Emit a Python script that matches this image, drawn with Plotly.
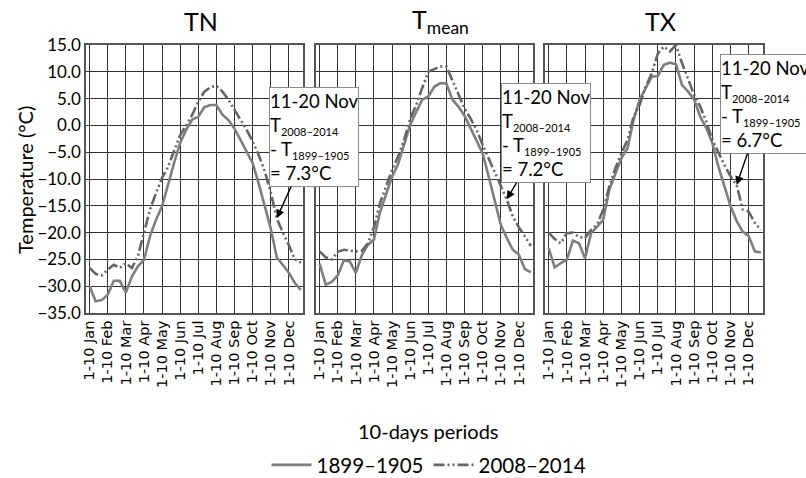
import plotly.graph_objects as go

# ---------------- data ----------------
periods = list(range(36))  # 10-day periods, 1-10 Jan ... 21-31 Dec
tick_idx = [0, 3, 6, 9, 12, 15, 18, 21, 24, 27, 30, 33]
tick_labels = ["1-10 Jan", "1-10 Feb", "1-10 Mar", "1-10 Apr", "1-10 May", "1-10 Jun",
               "1-10 Jul", "1-10 Aug", "1-10 Sep", "1-10 Oct", "1-10 Nov", "1-10 Dec"]
y_ticks = [-35, -30, -25, -20, -15, -10, -5, 0, 5, 10, 15]

tn_1899 = [-30.0, -32.8, -32.6, -31.6, -29.0, -29.0, -31.2, -28.2, -26.3, -25.1, -20.7, -17.6,
           -15.1, -10.8, -7.0, -3.3, -0.8, 1.1, 1.6, 3.4, 3.8, 3.8, 2.0, 1.0,
           -0.6, -2.7, -4.9, -7.0, -10.8, -14.8, -19.2, -24.6, -26.0, -27.5, -29.4, -30.7]
tn_2008 = [-26.6, -27.7, -28.0, -26.9, -26.0, -26.6, -25.7, -26.6, -24.4, -20.1, -15.7, -12.6,
           -9.8, -7.7, -4.9, -1.8, 0.0, 2.0, 4.4, 6.3, 7.1, 7.4, 6.3, 4.8,
           2.9, 1.1, -0.8, -3.0, -5.5, -8.5, -12.5, -17.3, -20.0, -22.3, -25.0, -25.6]

tmean_1899 = [-25.8, -29.7, -29.2, -28.0, -25.2, -25.4, -27.5, -24.2, -22.3, -21.3, -16.2, -13.0,
              -9.6, -7.2, -3.3, 0.1, 2.5, 4.8, 5.4, 7.2, 7.9, 7.8, 4.8, 3.5,
              1.8, -0.5, -2.7, -5.2, -9.5, -13.9, -18.5, -21.0, -23.2, -24.1, -26.8, -27.4]
tmean_2008 = [-23.5, -24.6, -25.0, -23.6, -23.2, -23.3, -23.5, -23.4, -22.0, -19.0, -14.5, -11.4,
              -8.3, -5.8, -2.7, 1.2, 3.8, 7.0, 10.0, 10.5, 11.0, 11.0, 8.4, 5.7,
              3.2, 1.3, -0.8, -3.6, -6.1, -8.9, -11.4, -13.8, -17.0, -19.0, -20.7, -22.5]

tx_1899 = [-22.9, -26.5, -25.7, -25.1, -21.5, -22.0, -24.8, -20.1, -18.9, -17.6, -12.0, -8.9,
           -6.1, -4.3, 1.0, 4.8, 6.9, 9.1, 9.2, 11.3, 11.7, 11.4, 7.5, 6.3,
           4.8, 1.6, -0.5, -3.3, -7.7, -11.4, -15.1, -17.8, -19.8, -20.7, -23.5, -23.7]
tx_2008 = [-20.0, -21.2, -22.0, -20.1, -20.0, -20.8, -21.0, -19.5, -18.5, -15.7, -11.4, -8.0,
           -5.2, -2.7, 1.6, 3.8, 7.2, 9.7, 13.4, 14.7, 13.8, 15.0, 11.6, 8.5,
           5.7, 3.5, 0.7, -2.7, -5.2, -7.4, -9.5, -11.1, -15.7, -16.1, -18.2, -19.5]

panel_titles = ["TN", "T<sub>mean</sub>", "TX"]
diff_texts = ["7.3°C", "7.2°C", "6.7°C"]
legend_names = ["1899–1905", "2008–2014"]
annot_period = 31  # 11-20 Nov

# ---------------- figure ----------------
W, H = 806, 478
fig = go.Figure()

panels = [(tn_1899, tn_2008), (tmean_1899, tmean_2008), (tx_1899, tx_2008)]
x_domains = [[86 / W, 303 / W], [316 / W, 533 / W], [545 / W, 763 / W]]
y_domain = [1 - 313 / H, 1 - 45 / H]

solid_color = "#7f7f7f"
dash_color = "#666666"

for k, (old, new) in enumerate(panels):
    xa = "x" if k == 0 else f"x{k+1}"
    ya = "y" if k == 0 else f"y{k+1}"
    fig.add_trace(go.Scatter(x=periods, y=old, mode="lines", name=legend_names[0],
                             line=dict(color=solid_color, width=2.6),
                             xaxis=xa, yaxis=ya, showlegend=(k == 0)))
    fig.add_trace(go.Scatter(x=periods, y=new, mode="lines", name=legend_names[1],
                             line=dict(color=dash_color, width=2.6,
                                       dash="11px,3px,2px,3px,2px,3px"),
                             xaxis=xa, yaxis=ya, showlegend=(k == 0)))

axis_common = dict(showline=True, mirror=True, linecolor="#555555", linewidth=1.5,
                   showgrid=True, gridcolor="#333333", gridwidth=1, zeroline=False,
                   ticks="", automargin=False)

layout = dict(width=W, height=H, autosize=False,
              margin=dict(l=0, r=0, t=0, b=0, autoexpand=False),
              paper_bgcolor="white", plot_bgcolor="white",
              font=dict(family="Lato", color="black"),
              legend=dict(orientation="h", x=429 / W, xanchor="center",
                          y=1 - 465 / H, yanchor="middle",
                          font=dict(size=20.5, family="Lato"),
                          itemwidth=40, tracegroupgap=0))

for k in range(3):
    xkey = "xaxis" if k == 0 else f"xaxis{k+1}"
    ykey = "yaxis" if k == 0 else f"yaxis{k+1}"
    xa = "x" if k == 0 else f"x{k+1}"
    ya = "y" if k == 0 else f"y{k+1}"
    layout[xkey] = dict(axis_common, domain=x_domains[k], anchor=ya,
                        range=[-0.6, 35.35], tickmode="array",
                        tickvals=tick_idx, ticktext=tick_labels, tickangle=-90,
                        tickfont=dict(family="DejaVu Sans", size=14.5, color="black"))
    layout[ykey] = dict(axis_common, domain=y_domain, anchor=xa,
                        range=[-35, 15], tickmode="array", tickvals=y_ticks,
                        tickformat=".1f", showticklabels=(k == 0),
                        tickfont=dict(family="Lato", size=17, color="black"))

fig.update_layout(**layout)

annotations = []
# panel titles
title_x = [201, 440, 660]
for k in range(3):
    annotations.append(dict(text=panel_titles[k], xref="paper", yref="paper",
                            x=title_x[k] / W, y=1 - 21 / H, xanchor="center",
                            yanchor="middle", showarrow=False,
                            font=dict(size=25, family="Lato")))

# y axis title
annotations.append(dict(text="Temperature (°C)", xref="paper", yref="paper",
                        x=25 / W, y=1 - 180 / H, textangle=-90, showarrow=False,
                        xanchor="center", yanchor="middle",
                        font=dict(size=20, family="Lato")))
# x axis title
annotations.append(dict(text="10-days periods", xref="paper", yref="paper",
                        x=428 / W, y=1 - 431 / H, showarrow=False,
                        xanchor="center", yanchor="middle",
                        font=dict(size=20, family="Lato")))

# difference call-outs
offsets = [(37, -81), (39, -66), (28, -81)]
sub = '<sub><span style="font-size:11px">{}</span></sub>'
for k, (old, new) in enumerate(panels):
    xa = "x" if k == 0 else f"x{k+1}"
    ya = "y" if k == 0 else f"y{k+1}"
    txt = ("11-20 Nov<br>T" + sub.format("2008–2014") + "<br>- T"
           + sub.format("1899–1905") + "<br>= " + diff_texts[k])
    annotations.append(dict(text=txt, xref=xa, yref=ya, x=annot_period,
                            y=new[annot_period], ax=offsets[k][0], ay=offsets[k][1],
                            showarrow=True, arrowhead=2, arrowsize=1.2, arrowwidth=1.4,
                            arrowcolor="black", align="left", width=88, height=98,
                            bgcolor="white", bordercolor="#8a8a8a", borderwidth=1,
                            borderpad=0, font=dict(size=18.5, family="Lato", color="black")))

fig.update_layout(annotations=annotations)
fig.write_html("out.html", config={"displayModeBar": False},
               post_script="document.body.style.margin='0';document.body.style.overflow='hidden';")
